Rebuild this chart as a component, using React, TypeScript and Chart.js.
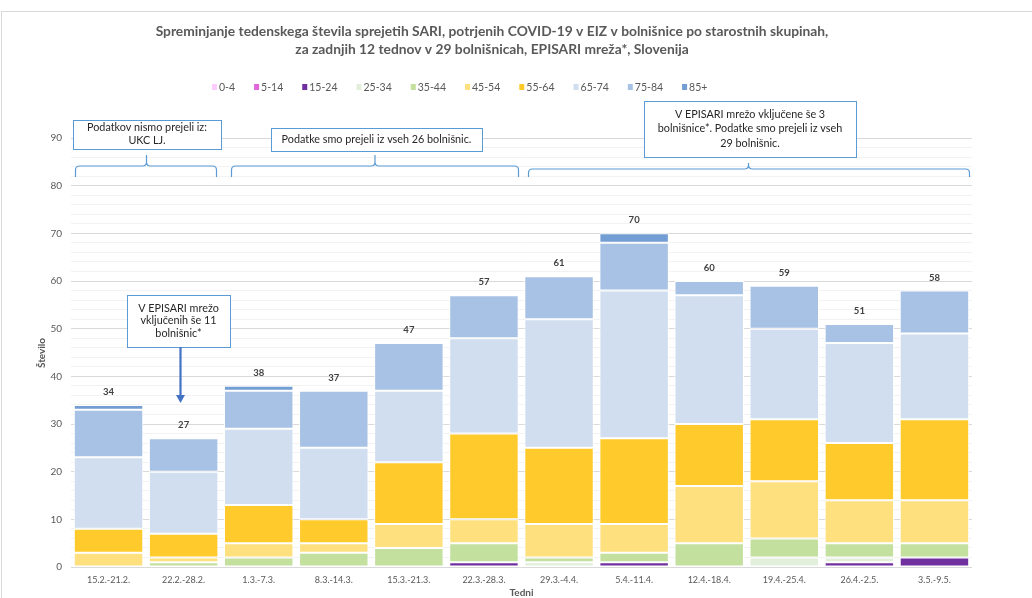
import React, { useEffect, useRef } from "react";
import { Chart, registerables } from "chart.js";

Chart.register(...registerables);

const categories = [
  "15.2.-21.2.", "22.2.-28.2.", "1.3.-7.3.", "8.3.-14.3.", "15.3.-21.3.", "22.3.-28.3.",
  "29.3.-4.4.", "5.4.-11.4.", "12.4.-18.4.", "19.4.-25.4.", "26.4.-2.5.", "3.5.-9.5.",
];

const seriesLabels = ["0-4", "5-14", "15-24", "25-34", "35-44", "45-54", "55-64", "65-74", "75-84", "85+"];
const seriesColors = ["#FFCCFF", "#E066DA", "#7030A0", "#E2EFDA", "#C4E09E", "#FFE07F", "#FFCB2C", "#D0DEEF", "#A7C2E4", "#739ED3"];

const age0_4 = [0, 0, 0, 0, 0, 0, 0, 0, 0, 0, 0, 0];
const age5_14 = [0, 0, 0, 0, 0, 0, 0, 0, 0, 0, 0, 0];
const age15_24 = [0, 0, 0, 0, 0, 1, 0, 1, 0, 0, 1, 2];
const age25_34 = [0, 0, 0, 0, 0, 0, 1, 0, 0, 2, 1, 0];
const age35_44 = [0, 1, 2, 3, 4, 4, 1, 2, 5, 4, 3, 3];
const age45_54 = [3, 1, 3, 2, 5, 5, 7, 6, 12, 12, 9, 9];
const age55_64 = [5, 5, 8, 5, 13, 18, 16, 18, 13, 13, 12, 17];
const age65_74 = [15, 13, 16, 15, 15, 20, 27, 31, 27, 19, 21, 18];
const age75_84 = [10, 7, 8, 12, 10, 9, 9, 10, 3, 9, 4, 9];
const age85plus = [1, 0, 1, 0, 0, 0, 0, 2, 0, 0, 0, 0];

const seriesValues = [age0_4, age5_14, age15_24, age25_34, age35_44, age45_54, age55_64, age65_74, age75_84, age85plus];

const titleLines = [
  "Spreminjanje tedenskega števila sprejetih SARI, potrjenih COVID-19 v EIZ v bolnišnice po starostnih skupinah,",
  "za zadnjih 12 tednov v 29 bolnišnicah, EPISARI mreža*, Slovenija",
];
const yTitle = "Število";
const xTitle = "Tedni";

const FONT = 'Lato, "Liberation Sans", sans-serif';
const TEXT = "#595959";
const BLUE = "#5B9BD5";

function drawBox(ctx: CanvasRenderingContext2D, x1: number, y1: number, x2: number, y2: number, lines: string[], lineH: number) {
  ctx.save();
  ctx.fillStyle = "#FFFFFF";
  ctx.fillRect(x1, y1, x2 - x1, y2 - y1);
  ctx.strokeStyle = BLUE;
  ctx.lineWidth = 1;
  ctx.strokeRect(Math.round(x1) + 0.5, Math.round(y1) + 0.5, Math.round(x2 - x1), Math.round(y2 - y1));
  ctx.fillStyle = "#262626";
  ctx.font = `10.8px ${FONT}`;
  ctx.textAlign = "center";
  ctx.textBaseline = "middle";
  const cx = (x1 + x2) / 2;
  const cy = (y1 + y2) / 2;
  const start = cy - ((lines.length - 1) * lineH) / 2;
  lines.forEach((l, i) => ctx.fillText(l, cx, start + i * lineH));
  ctx.restore();
}

function drawBrace(ctx: CanvasRenderingContext2D, x1: number, x2: number, tip: number, yEnd: number, yMid: number, yTip: number) {
  const r = 4;
  ctx.save();
  ctx.strokeStyle = BLUE;
  ctx.lineWidth = 1.2;
  ctx.beginPath();
  ctx.moveTo(x1, yEnd);
  ctx.lineTo(x1, yMid + r);
  ctx.quadraticCurveTo(x1, yMid, x1 + r, yMid);
  ctx.lineTo(tip - r, yMid);
  ctx.quadraticCurveTo(tip, yMid, tip, yMid - r);
  ctx.lineTo(tip, yTip);
  ctx.moveTo(tip, yMid - r);
  ctx.quadraticCurveTo(tip, yMid, tip + r, yMid);
  ctx.lineTo(x2 - r, yMid);
  ctx.quadraticCurveTo(x2, yMid, x2, yMid + r);
  ctx.lineTo(x2, yEnd);
  ctx.stroke();
  ctx.restore();
}

const totalsPlugin = {
  id: "totals",
  afterDatasetsDraw(chart: any) {
    const { ctx } = chart;
    const xs = chart.scales.x;
    const ys = chart.scales.y;
    ctx.save();
    ctx.font = `bold 9.5px ${FONT}`;
    ctx.fillStyle = "#404040";
    ctx.textAlign = "center";
    ctx.textBaseline = "middle";
    categories.forEach((_, i) => {
      const total = seriesValues.reduce((s, arr) => s + arr[i], 0);
      ctx.fillText(String(total), xs.getPixelForValue(i), ys.getPixelForValue(total) - 13);
    });
    ctx.restore();
  },
};

const decorPlugin = {
  id: "decor",
  afterDraw(chart: any) {
    const { ctx } = chart;
    const area = chart.chartArea;
    ctx.save();
    // frame
    ctx.strokeStyle = "#D9D9D9";
    ctx.lineWidth = 1;
    ctx.strokeRect(1.5, 11.5, 1100, 700);

    // title
    ctx.fillStyle = TEXT;
    ctx.font = `bold 13.8px ${FONT}`;
    ctx.textAlign = "center";
    ctx.textBaseline = "middle";
    ctx.fillText(titleLines[0], 492, 32);
    ctx.fillText(titleLines[1], 492, 50);

    // legend
    ctx.font = `10.5px ${FONT}`;
    ctx.textAlign = "left";
    let x = 212;
    seriesLabels.forEach((lab, i) => {
      ctx.fillStyle = seriesColors[i];
      ctx.fillRect(x, 84, 5, 6);
      ctx.fillStyle = TEXT;
      ctx.fillText(lab, x + 7, 87.5);
      x += 7 + ctx.measureText(lab).width + 19;
    });

    // axis titles
    ctx.font = `bold 10px ${FONT}`;
    ctx.textAlign = "center";
    ctx.fillText(xTitle, (area.left + area.right) / 2, 593);
    ctx.save();
    ctx.translate(42, 353);
    ctx.rotate(-Math.PI / 2);
    ctx.fillText(yTitle, 0, 0);
    ctx.restore();

    // annotations
    drawBox(ctx, 73, 120, 221, 149, ["Podatkov nismo prejeli iz:", "UKC LJ."], 13);
    drawBox(ctx, 271, 128, 482, 151, ["Podatke smo prejeli iz vseh 26 bolnišnic."], 13);
    drawBox(ctx, 644, 101, 856, 157, ["V EPISARI mrežo vključene še 3", "bolnišnice*. Podatke smo prejeli iz vseh", "29 bolnišnic."], 14.5);
    drawBox(ctx, 127, 295, 230, 347, ["V EPISARI mrežo", "vključenih še 11", "bolnišnic*"], 12.5);

    drawBrace(ctx, 75.5, 216.5, 146.5, 177, 166, 155);
    drawBrace(ctx, 231.5, 518.5, 375, 177, 166, 155);
    drawBrace(ctx, 528.5, 969.5, 748.5, 177, 169, 163);

    // arrow
    ctx.strokeStyle = "#4472C4";
    ctx.fillStyle = "#4472C4";
    ctx.lineWidth = 2.2;
    ctx.beginPath();
    ctx.moveTo(180.5, 347);
    ctx.lineTo(180.5, 396);
    ctx.stroke();
    ctx.beginPath();
    ctx.moveTo(176, 395);
    ctx.lineTo(185, 395);
    ctx.lineTo(180.5, 403);
    ctx.closePath();
    ctx.fill();
    ctx.restore();
  },
};

export default function App() {
  const ref = useRef<HTMLCanvasElement | null>(null);
  useEffect(() => {
    if (!ref.current) return;
    Chart.defaults.font.family = FONT;
    const chart = new Chart(ref.current, {
      type: "bar",
      data: {
        labels: categories,
        datasets: seriesLabels.map((lab, i) => ({
          label: lab,
          data: seriesValues[i],
          backgroundColor: seriesColors[i],
          borderColor: "#FFFFFF",
          borderWidth: 1,
          borderSkipped: false,
          barPercentage: 0.925,
          categoryPercentage: 1,
        })),
      },
      options: {
        responsive: false,
        animation: false,
        layout: { padding: { top: 138, right: 60, left: 0, bottom: 0 } },
        plugins: { legend: { display: false }, title: { display: false }, tooltip: { enabled: false } },
        scales: {
          x: {
            stacked: true,
            grid: { display: false },
            border: { display: false },
            ticks: { font: { size: 9, family: FONT }, color: TEXT, padding: 0, maxRotation: 0, autoSkip: false },
            afterFit: (s: any) => { s.height = 31; },
          },
          y: {
            stacked: true,
            min: 0,
            max: 90,
            border: { display: false },
            grid: {
              drawTicks: false,
              color: (c: any) => (c.tick && c.tick.value % 10 === 0 ? "#D9D9D9" : "#F2F2F2"),
            },
            ticks: {
              stepSize: 2,
              autoSkip: false,
              padding: 9,
              font: { size: 10, family: FONT },
              color: TEXT,
              callback: (v: any) => (Number(v) % 10 === 0 ? String(v) : ""),
            },
            afterFit: (s: any) => { s.width = 71; },
          },
        },
      },
      plugins: [totalsPlugin, decorPlugin],
    });
    return () => chart.destroy();
  }, []);
  return (
    <div style={{ position: "absolute", left: 0, top: 0, width: 1032, height: 598, background: "#FFFFFF" }}>
      <canvas ref={ref} width={1032} height={598} />
    </div>
  );
}
